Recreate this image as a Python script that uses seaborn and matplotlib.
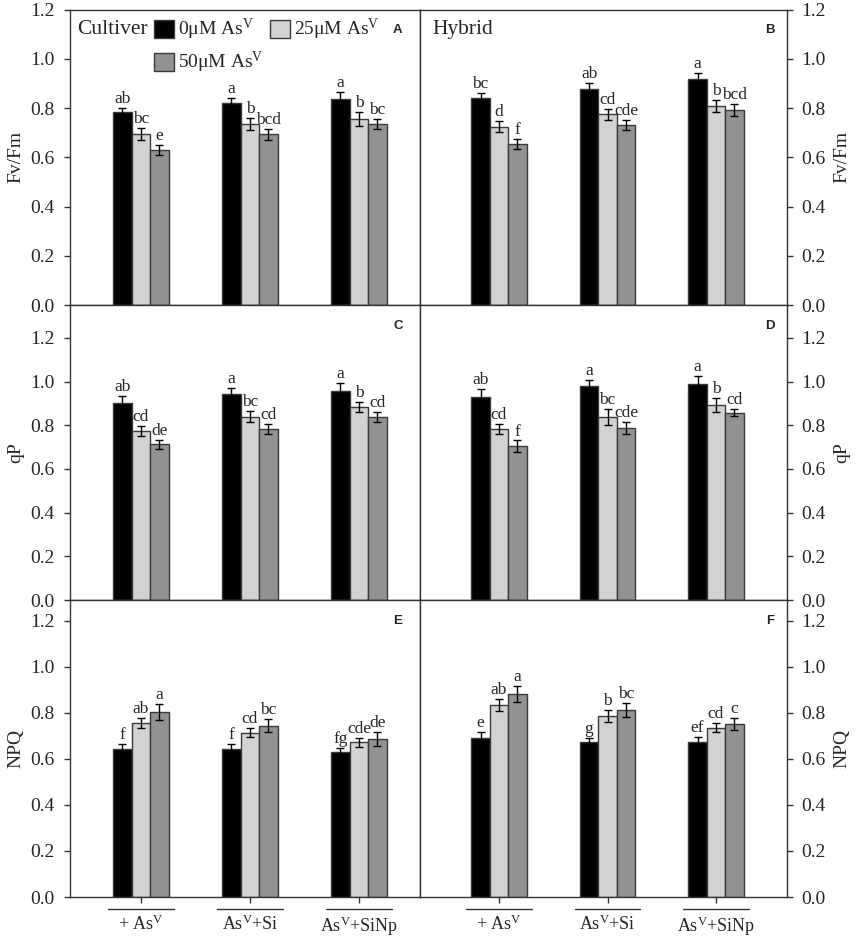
import numpy as np
import pandas as pd
import seaborn as sns
import matplotlib.pyplot as plt
import matplotlib.transforms as mtransforms
from matplotlib.patches import Patch

sns.set_theme(style='white')
plt.rcParams['font.family'] = ['Liberation Serif', 'DejaVu Serif']
plt.rcParams['mathtext.fontset'] = 'custom'
plt.rcParams['mathtext.rm'] = 'Liberation Serif'
plt.rcParams['mathtext.it'] = 'Liberation Serif:italic'
plt.rcParams['mathtext.bf'] = 'Liberation Serif:bold'

# ---------------- data ----------------
treatments = ['+AsV', 'AsV+Si', 'AsV+SiNp']
tick_labels = [r'+ As$^{\mathrm{V}}$', r'As$^{\mathrm{V}}$+Si', r'As$^{\mathrm{V}}$+SiNp']
concs = ['0', '25', '50']
legend_labels = [r'0μM As$^{\mathrm{V}}$', r'25μM As$^{\mathrm{V}}$', r'50μM As$^{\mathrm{V}}$']
colors = ['#000000', '#d2d2d2', '#929292']

# rows: treatment (+AsV, AsV+Si, AsV+SiNp); columns: 0, 25, 50 µM AsV
fvfm_cult = [[0.783, 0.693, 0.629], [0.819, 0.734, 0.693], [0.835, 0.755, 0.734]]
fvfm_cult_err = [[0.018, 0.024, 0.020], [0.023, 0.024, 0.022], [0.029, 0.027, 0.021]]
fvfm_cult_sig = [['ab', 'bc', 'e'], ['a', 'b', 'bcd'], ['a', 'b', 'bc']]

fvfm_hyb = [[0.842, 0.724, 0.654], [0.877, 0.774, 0.731], [0.918, 0.808, 0.792]]
fvfm_hyb_err = [[0.020, 0.023, 0.020], [0.023, 0.022, 0.020], [0.025, 0.024, 0.023]]
fvfm_hyb_sig = [['bc', 'd', 'f'], ['ab', 'cd', 'cde'], ['a', 'b', 'bcd']]

qp_cult = [[0.904, 0.774, 0.713], [0.942, 0.840, 0.783], [0.959, 0.886, 0.840]]
qp_cult_err = [[0.032, 0.023, 0.020], [0.028, 0.026, 0.022], [0.036, 0.023, 0.023]]
qp_cult_sig = [['ab', 'cd', 'de'], ['a', 'bc', 'cd'], ['a', 'b', 'cd']]

qp_hyb = [[0.931, 0.782, 0.705], [0.980, 0.837, 0.789], [0.988, 0.893, 0.858]]
qp_hyb_err = [[0.034, 0.023, 0.026], [0.028, 0.037, 0.028], [0.038, 0.031, 0.017]]
qp_hyb_sig = [['ab', 'cd', 'f'], ['a', 'bc', 'cde'], ['a', 'b', 'cd']]

npq_cult = [[0.641, 0.754, 0.802], [0.643, 0.714, 0.744], [0.628, 0.672, 0.686]]
npq_cult_err = [[0.022, 0.022, 0.035], [0.020, 0.021, 0.029], [0.018, 0.020, 0.029]]
npq_cult_sig = [['f', 'ab', 'a'], ['f', 'cd', 'bc'], ['fg', 'cde', 'de']]

npq_hyb = [[0.689, 0.834, 0.882], [0.672, 0.786, 0.812], [0.675, 0.735, 0.751]]
npq_hyb_err = [[0.026, 0.025, 0.036], [0.020, 0.026, 0.029], [0.019, 0.019, 0.025]]
npq_hyb_sig = [['e', 'ab', 'a'], ['g', 'b', 'bc'], ['ef', 'cd', 'c']]

ylabels = ['Fv/Fm', 'qP', 'NPQ']
panel_letters = ['A', 'B', 'C', 'D', 'E', 'F']

# ---------------- layout ----------------
W, H = 859, 938
fig = plt.figure(figsize=(W / 100, H / 100), dpi=100)

col_px = [(70, 420), (420, 787)]
row_px = [(9.5, 305), (305, 600), (600, 897)]
row_ylim = [1.2, 1.351, 1.29]
col_xlim = [(-0.651, 2.56), (-0.728, 2.654)]

panels = [
    [(fvfm_cult, fvfm_cult_err, fvfm_cult_sig), (fvfm_hyb, fvfm_hyb_err, fvfm_hyb_sig)],
    [(qp_cult, qp_cult_err, qp_cult_sig), (qp_hyb, qp_hyb_err, qp_hyb_sig)],
    [(npq_cult, npq_cult_err, npq_cult_sig), (npq_hyb, npq_hyb_err, npq_hyb_sig)],
]

BAR_W = 0.51
spine_col = '#333333'

axes = {}
for r in range(3):
    for c in range(2):
        x0, x1 = col_px[c]
        y0, y1 = row_px[r]
        ax = fig.add_axes([x0 / W, 1 - y1 / H, (x1 - x0) / W, (y1 - y0) / H])
        axes[(r, c)] = ax
        vals, errs, sigs = panels[r][c]
        df = pd.DataFrame({
            'treatment': np.repeat(treatments, 3),
            'conc': np.tile(concs, 3),
            'value': np.ravel(vals),
        })
        sns.barplot(data=df, x='treatment', y='value', hue='conc',
                    order=treatments, hue_order=concs, palette=colors,
                    width=BAR_W, gap=0, errorbar=None, saturation=1,
                    edgecolor='#3a3a3a', linewidth=1.0, legend=False, ax=ax)
        for p in ax.patches:
            xc = p.get_x() + p.get_width() / 2
            h = p.get_height()
            j = int(round(xc))
            i = int(round((xc - j) / (BAR_W / 3))) + 1
            e = errs[j][i]
            ax.errorbar(xc, h, yerr=e, fmt='none', ecolor='black',
                        elinewidth=1, capsize=3.2, capthick=1, zorder=4)
            ax.text(xc, h + e + 0.004, sigs[j][i], ha='center', va='bottom',
                    fontsize=12.5, zorder=5)

        ax.set_ylim(0, row_ylim[r])
        ax.set_xlim(*col_xlim[c])
        ax.set_yticks(np.arange(0, 1.21, 0.2))
        ax.set_yticklabels([f'{v:.1f}' for v in np.arange(0, 1.21, 0.2)])
        for s in ax.spines.values():
            s.set_color(spine_col)
            s.set_linewidth(1.0)
            s.set_visible(True)
        ax.set_xlabel('')
        if c == 0:
            ax.tick_params(axis='y', left=True, right=False, labelleft=True,
                           labelright=False, direction='out', length=4,
                           width=1, color=spine_col, pad=7, labelsize=14)
            ax.set_ylabel(ylabels[r], fontsize=14, labelpad=4)
        else:
            ax.tick_params(axis='y', left=False, right=True, labelleft=False,
                           labelright=True, direction='out', length=4,
                           width=1, color=spine_col, pad=6, labelsize=14)
            ax.yaxis.set_label_position('right')
            ax.set_ylabel(ylabels[r], fontsize=14, labelpad=6)
        if r == 2:
            ax.set_xticks(range(3))
            ax.set_xticklabels(tick_labels)
            ax.tick_params(axis='x', bottom=True, direction='out', length=4,
                           width=1, color=spine_col, pad=9, labelsize=13)
            trans = mtransforms.blended_transform_factory(ax.transData, ax.transAxes)
            for j in range(3):
                ax.plot([j - 0.3, j + 0.3], [-0.04, -0.04], transform=trans,
                        clip_on=False, color=spine_col, lw=1)
        else:
            ax.set_xticks(range(3))
            ax.tick_params(axis='x', bottom=False, labelbottom=False)

        ax.annotate(panel_letters[r * 2 + c], xy=(1, 1), xycoords='axes fraction',
                    xytext=(-16 if c == 0 else -12, -15), textcoords='offset points',
                    ha='center', va='center', fontsize=9.5, fontweight='bold',
                    family=['Liberation Sans', 'DejaVu Sans'])

# titles and legend
axA = axes[(0, 0)]
axB = axes[(0, 1)]
axA.text(0.02, 0.934, 'Cultiver', transform=axA.transAxes, ha='left',
         va='center', fontsize=15.5)
axB.text(0.035, 0.934, 'Hybrid', transform=axB.transAxes, ha='left',
         va='center', fontsize=15.5)

handles = [Patch(facecolor=col, edgecolor='#3a3a3a', linewidth=1) for col in colors]
order = [0, 2, 1]
axA.legend([handles[k] for k in order], [legend_labels[k] for k in order],
           ncol=2, loc='upper left', bbox_to_anchor=(0.24, 0.975),
           frameon=False, fontsize=14, handlelength=1.05, handleheight=1.05,
           handletextpad=0.2, columnspacing=0.3, labelspacing=0.4,
           borderpad=0, borderaxespad=0)

fig.savefig('out.png', dpi=100)
